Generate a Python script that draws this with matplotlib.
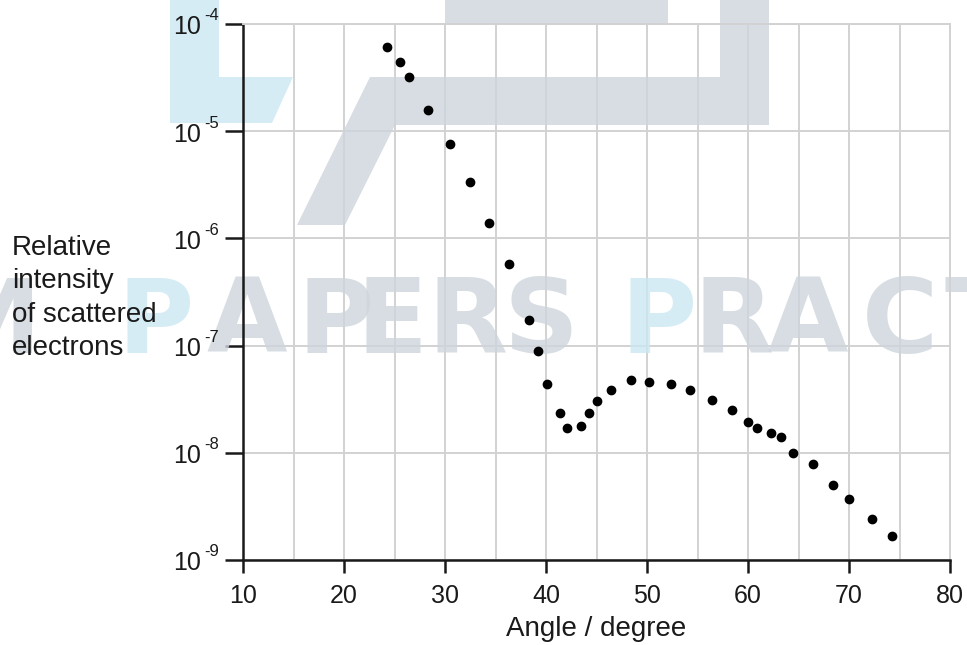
import matplotlib
matplotlib.use("Agg")
import matplotlib.pyplot as plt
import numpy as np
from matplotlib.patches import Polygon
from matplotlib.transforms import offset_copy
from matplotlib.ticker import FixedLocator, NullLocator, NullFormatter

plt.rcParams['font.family'] = ['Liberation Sans', 'DejaVu Sans']

# ---------------- data ----------------
angles = [24.3, 25.5, 26.4, 28.35, 30.5, 32.5, 34.4, 36.3, 38.3, 39.2,
          40.07, 41.36, 42.08, 43.43, 44.3, 45.08, 46.44, 48.4, 50.2, 52.4,
          54.3, 56.4, 58.4, 60.0, 60.9, 62.3, 63.3, 64.5, 66.4, 68.45,
          69.97, 72.25, 74.26]
intensity = [6.05e-5, 4.38e-5, 3.2e-5, 1.58e-5, 7.57e-6, 3.33e-6, 1.39e-6,
             5.73e-7, 1.74e-7, 9.0e-8, 4.38e-8, 2.33e-8, 1.69e-8, 1.78e-8,
             2.37e-8, 3.02e-8, 3.83e-8, 4.74e-8, 4.61e-8, 4.35e-8, 3.86e-8,
             3.11e-8, 2.51e-8, 1.95e-8, 1.69e-8, 1.53e-8, 1.39e-8, 1.0e-8,
             7.8e-9, 5.03e-9, 3.73e-9, 2.43e-9, 1.68e-9]
x_ticks = [10, 20, 30, 40, 50, 60, 70, 80]
x_grid = [15, 20, 25, 30, 35, 40, 45, 50, 55, 60, 65, 70, 75]
y_exponents = [-9, -8, -7, -6, -5, -4]
x_label = "Angle / degree"
y_label = "Relative\nintensity\nof scattered\nelectrons"

W, H = 967, 645
fig = plt.figure(figsize=(W / 100, H / 100), dpi=100)
ax = fig.add_axes([243 / W, 1 - 560 / H, (950 - 243) / W, (560 - 24) / H])

ax.set_yscale('log')
ax.set_xlim(10, 80)
ax.set_ylim(1e-9, 1e-4)

grid_c = '#d2d2d2'
for gx in x_grid:
    ax.axvline(gx, color=grid_c, lw=1.4, zorder=1)
for e in y_exponents:
    ax.axhline(10.0 ** e, color=grid_c, lw=1.4, zorder=1)

ax.plot(angles, intensity, 'o', color='black', markersize=6, zorder=4,
        clip_on=False)

# spines
for s in ['top', 'right']:
    ax.spines[s].set_color(grid_c)
    ax.spines[s].set_linewidth(1.4)
for s in ['left', 'bottom']:
    ax.spines[s].set_color('#1a1a1a')
    ax.spines[s].set_linewidth(1.8)

ax.xaxis.set_major_locator(FixedLocator(x_ticks))
ax.xaxis.set_minor_locator(NullLocator())
ax.yaxis.set_major_locator(FixedLocator([10.0 ** e for e in y_exponents]))
ax.yaxis.set_minor_locator(NullLocator())
ax.yaxis.set_major_formatter(NullFormatter())
ax.yaxis.set_minor_formatter(NullFormatter())
ax.tick_params(axis='x', direction='out', length=9, width=1.8,
               color='#1a1a1a', labelsize=18, pad=8, labelcolor='#1a1a1a')
ax.tick_params(axis='y', direction='out', length=13, width=1.8,
               color='#1a1a1a')

# custom y tick labels "10^-n" with hyphen
ytr = ax.get_yaxis_transform()
for e in y_exponents:
    t1 = offset_copy(ytr, fig=fig, x=-42, y=-3.5, units='dots')
    ax.text(0, 10.0 ** e, "10", transform=t1, ha='right', va='center',
            fontsize=18, color='#1a1a1a', clip_on=False)
    t2 = offset_copy(ytr, fig=fig, x=-39, y=8, units='dots')
    ax.text(0, 10.0 ** e, "-%d" % (-e), transform=t2, ha='left',
            va='center', fontsize=12, color='#1a1a1a', clip_on=False)

ax.set_xlabel(x_label, fontsize=20, color='#1a1a1a', labelpad=6)
fig.text(12 / W, 1 - 298 / H, y_label, ha='left', va='center',
         fontsize=20, color='#1a1a1a', linespacing=1.36)

# ---------------- watermark ----------------
blue = '#cce8f2'
grey = '#cdd5db'
def fp(px, py):
    return (px / W, 1 - py / H)

shapes = [
    ([(170, -5), (219, -5), (219, 77), (293, 77), (272, 123), (170, 123)], blue),
    ([(297, 225), (370, 77), (720, 77), (720, -5), (769, -5), (769, 125),
      (395, 125), (345, 225)], grey),
    ([(445, -5), (668, -5), (668, 24), (445, 24)], grey),
]
for pts, c in shapes:
    poly = Polygon([fp(*p) for p in pts], closed=True, facecolor=c,
                   edgecolor='none', alpha=0.8, transform=fig.transFigure,
                   zorder=2, clip_on=False)
    ax.add_patch(poly)

ax.text(*fp(42, 353), "EXAM", transform=fig.transFigure, ha='right',
        va='baseline', fontsize=75, fontfamily='DejaVu Sans',
        fontweight='bold', color=grey, alpha=0.8, zorder=2, clip_on=False)
letters = [("P", 156, blue), ("A", 247, grey), ("P", 336, grey),
           ("E", 392, grey), ("R", 468, grey), ("S", 541, grey),
           ("P", 659, blue), ("R", 734, grey), ("A", 808, grey),
           ("C", 900, grey), ("T", 980, grey)]
for ch, cx, c in letters:
    ax.text(*fp(cx, 353), ch, transform=fig.transFigure, ha='center',
            va='baseline', fontsize=75, fontfamily='DejaVu Sans',
            fontweight='bold', color=c, alpha=0.8, zorder=2, clip_on=False)

fig.savefig("out.png", dpi=100)
